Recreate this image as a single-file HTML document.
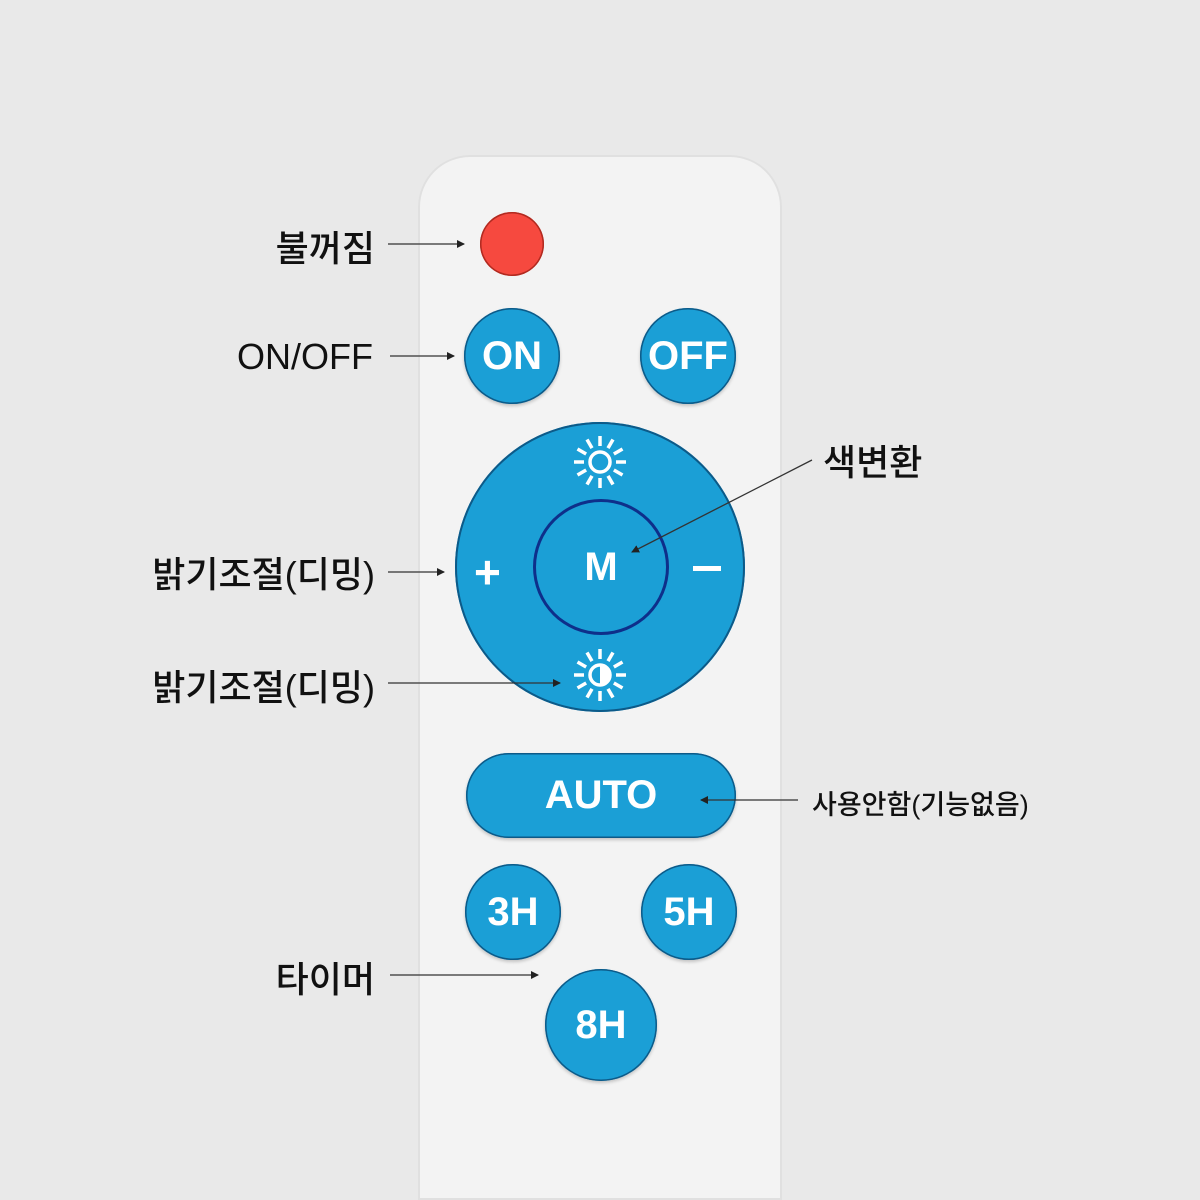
<!DOCTYPE html>
<html style="overflow:hidden;height:1200px"><head><meta charset="utf-8"><style>
body{margin:0;width:1200px;height:1200px;background:#e9e9e9;overflow:hidden;position:relative;font-family:"Liberation Sans","Noto Sans CJK KR",sans-serif}
.b{position:absolute;border-radius:50%;background:#1b9fd6;box-shadow:inset 0 0 0 1.5px #0d5a88,0 2px 3px rgba(0,0,0,.2);color:#fff;font-weight:bold;display:flex;align-items:center;justify-content:center;font-size:40px}
.l{position:absolute;font-size:36px;color:#111;white-space:nowrap;font-weight:500}
</style></head><body>
<div style="position:absolute;left:418px;top:155px;width:364px;height:1045px;background:#f3f3f3;border-radius:52px 52px 0 0;box-shadow:inset 0 0 0 2px #e0e0e0"></div>
<div style="position:absolute;left:480px;top:212px;width:64px;height:64px;border-radius:50%;background:#f6493f;box-shadow:inset 0 0 0 1.5px #b02a20"></div>
<div class="b" style="left:464px;top:308px;width:96px;height:96px">ON</div>
<div class="b" style="left:640px;top:308px;width:96px;height:96px">OFF</div>
<div class="b" style="left:455px;top:422px;width:290px;height:290px;box-shadow:inset 0 0 0 2px #0d5a88"></div>
<div class="b" style="left:533px;top:499px;width:136px;height:136px;box-shadow:inset 0 0 0 3px #0e2f8a;font-size:40px">M</div>
<div style="position:absolute;left:474px;top:545px;color:#fff;font-size:46px;font-weight:bold">+</div>
<div style="position:absolute;left:693px;top:566px;width:28px;height:5px;background:#fff"></div>
<svg style="position:absolute;left:570px;top:432px" width="60" height="60" viewBox="-30 -30 60 60">
<circle r="10" fill="none" stroke="#fff" stroke-width="3.5"/>
<g stroke="#fff" stroke-width="3.5"><line x1="0" y1="-16" x2="0" y2="-26" transform="rotate(0)"/><line x1="0" y1="-16" x2="0" y2="-26" transform="rotate(30)"/><line x1="0" y1="-16" x2="0" y2="-26" transform="rotate(60)"/><line x1="0" y1="-16" x2="0" y2="-26" transform="rotate(90)"/><line x1="0" y1="-16" x2="0" y2="-26" transform="rotate(120)"/><line x1="0" y1="-16" x2="0" y2="-26" transform="rotate(150)"/><line x1="0" y1="-16" x2="0" y2="-26" transform="rotate(180)"/><line x1="0" y1="-16" x2="0" y2="-26" transform="rotate(210)"/><line x1="0" y1="-16" x2="0" y2="-26" transform="rotate(240)"/><line x1="0" y1="-16" x2="0" y2="-26" transform="rotate(270)"/><line x1="0" y1="-16" x2="0" y2="-26" transform="rotate(300)"/><line x1="0" y1="-16" x2="0" y2="-26" transform="rotate(330)"/></g></svg>
<svg style="position:absolute;left:570px;top:645px" width="60" height="60" viewBox="-30 -30 60 60">
<circle r="10" fill="none" stroke="#fff" stroke-width="3.5"/><path d="M0,-10 A10,10 0 0 1 0,10Z" fill="#fff"/>
<g stroke="#fff" stroke-width="3.5"><line x1="0" y1="-16" x2="0" y2="-26" transform="rotate(0)"/><line x1="0" y1="-16" x2="0" y2="-26" transform="rotate(30)"/><line x1="0" y1="-16" x2="0" y2="-26" transform="rotate(60)"/><line x1="0" y1="-16" x2="0" y2="-26" transform="rotate(90)"/><line x1="0" y1="-16" x2="0" y2="-26" transform="rotate(120)"/><line x1="0" y1="-16" x2="0" y2="-26" transform="rotate(150)"/><line x1="0" y1="-16" x2="0" y2="-26" transform="rotate(180)"/><line x1="0" y1="-16" x2="0" y2="-26" transform="rotate(210)"/><line x1="0" y1="-16" x2="0" y2="-26" transform="rotate(240)"/><line x1="0" y1="-16" x2="0" y2="-26" transform="rotate(270)"/><line x1="0" y1="-16" x2="0" y2="-26" transform="rotate(300)"/><line x1="0" y1="-16" x2="0" y2="-26" transform="rotate(330)"/></g></svg>
<div class="b" style="left:466px;top:753px;width:270px;height:85px;border-radius:43px">AUTO</div>
<div class="b" style="left:465px;top:864px;width:96px;height:96px">3H</div>
<div class="b" style="left:641px;top:864px;width:96px;height:96px">5H</div>
<div class="b" style="left:545px;top:969px;width:112px;height:112px">8H</div>
<div class="l" style="right:825px;top:220px">불꺼짐</div>
<div class="l" style="right:827px;top:336px">ON/OFF</div>
<div class="l" style="left:823px;top:434px">색변환</div>
<div class="l" style="right:825px;top:546px">밝기조절(디밍)</div>
<div class="l" style="right:825px;top:659px">밝기조절(디밍)</div>
<div class="l" style="left:812px;top:783px;font-size:27px">사용안함(기능없음)</div>
<div class="l" style="right:825px;top:951px">타이머</div>
<svg style="position:absolute;left:0;top:0" width="1200" height="1200">
<defs><marker id="a" markerWidth="8" markerHeight="8" refX="7" refY="4" orient="auto" markerUnits="userSpaceOnUse"><path d="M0,0L8,4L0,8Z" fill="#222"/></marker></defs>
<g stroke="#333" stroke-width="1.3" fill="none" marker-end="url(#a)">
<line x1="388" y1="244" x2="464" y2="244"/>
<line x1="390" y1="356" x2="454" y2="356"/>
<line x1="812" y1="460" x2="632" y2="552"/>
<line x1="388" y1="572" x2="444" y2="572"/>
<line x1="388" y1="683" x2="560" y2="683"/>
<line x1="798" y1="800" x2="701" y2="800"/>
<line x1="390" y1="975" x2="538" y2="975"/>
</g></svg>
</body></html>
